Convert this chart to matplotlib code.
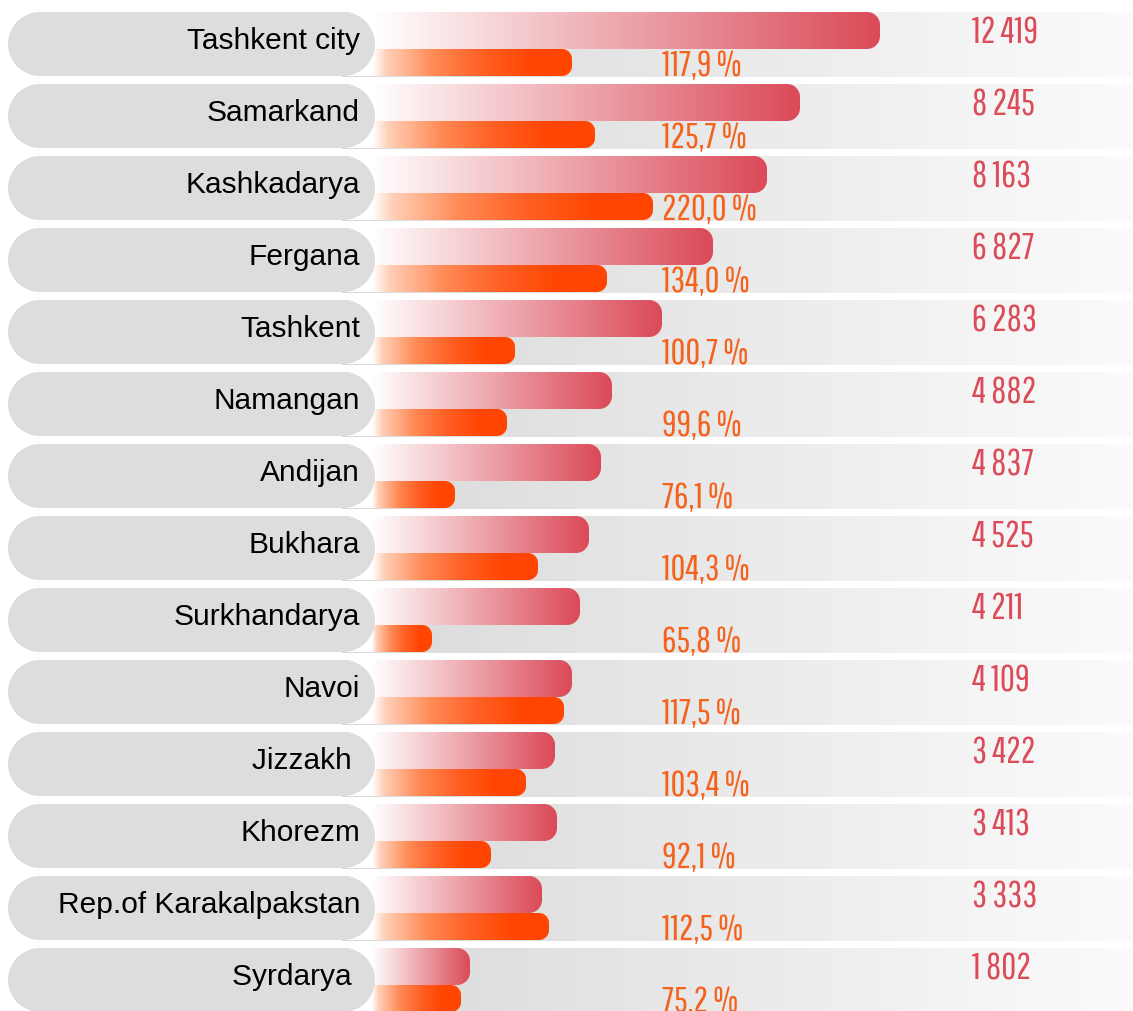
import numpy as np
import matplotlib
matplotlib.use('Agg')
import matplotlib.pyplot as plt
from matplotlib.patches import Polygon
from matplotlib.colors import LinearSegmentedColormap

# data
regions = ['Tashkent city', 'Samarkand', 'Kashkadarya', 'Fergana', 'Tashkent', 'Namangan',
           'Andijan', 'Bukhara', 'Surkhandarya', 'Navoi', 'Jizzakh ', 'Khorezm',
           'Rep.of Karakalpakstan', 'Syrdarya ']
values = [12419, 8245, 8163, 6827, 6283, 4882, 4837, 4525, 4211, 4109, 3422, 3413, 3333, 1802]
growth = [117.9, 125.7, 220.0, 134.0, 100.7, 99.6, 76.1, 104.3, 65.8, 117.5, 103.4, 92.1, 112.5, 75.2]
# bar lengths as drawn (not proportional to the numbers)
top_len = [508, 428, 395, 341, 290, 240, 229, 217, 208, 200, 183, 185, 170, 98]
bot_len = [200, 223, 281, 235, 143, 135, 83, 166, 60, 192, 154, 119, 177, 89]

W, H = 1133, 1011
x0 = 372          # left edge of the bar area (right end of the label pill)
pitch = 72
top_pad = 12

red_cmap = LinearSegmentedColormap.from_list('red', ['#ffffff', '#db4a58'])
org_cmap = LinearSegmentedColormap.from_list(
    'org', [(0, '#ffffff'), (0.07, '#ffd0b8'), (0.31, '#ff8a55'), (0.55, '#ff6025'),
            (0.8, '#ff4500'), (1, '#ff4500')])
band_cmap = LinearSegmentedColormap.from_list('band', ['#d9d9d9', '#fbfbfb'])

plt.rcParams['font.family'] = ['Liberation Sans', 'DejaVu Sans']
num_font = ['Pathway Gothic One', 'Liberation Sans Narrow', 'DejaVu Sans']

fig = plt.figure(figsize=(W / 100, H / 100), dpi=100)
ax = fig.add_axes([0, 0, 1, 1])
ax.set_xlim(-x0, W - x0)
ax.set_ylim(H, 0)
ax.axis('off')


def rrect(x, y, w, h, r, **kw):
    # rounded rectangle with true circular corners
    pts = []
    corners = [(x + w - r, y + h - r, 0), (x + r, y + h - r, 90),
               (x + r, y + r, 180), (x + w - r, y + r, 270)]
    for cx, cy, a in corners:
        t = np.radians(np.linspace(a, a + 90, 16))
        pts += list(zip(cx + r * np.cos(t), cy + r * np.sin(t)))
    return Polygon(pts, closed=True, **kw)


def grad_bar(ax, left, right, y, h, cmap, start, rounding, z):
    box = rrect(left, y, right - left, h, rounding, facecolor='none', edgecolor='none', zorder=z)
    ax.add_patch(box)
    xs = np.linspace(left, right, 400)
    frac = np.clip((xs - start) / (right - start), 0, 1)
    img = cmap(frac)[None, :, :]
    im = ax.imshow(img, extent=(left, right, y + h, y), aspect='auto',
                   interpolation='bilinear', zorder=z)
    im.set_clip_path(box)


for i, name in enumerate(regions):
    yt = top_pad + i * pitch

    # background band
    xs = np.linspace(0, 1, 400)
    ax.imshow(band_cmap(xs)[None, :, :], extent=(-30, W - x0, yt + 65, yt),
              aspect='auto', zorder=1)

    # top (red) and bottom (orange) bars
    grad_bar(ax, -32, top_len[i], yt, 37, red_cmap, 0, 13, 2)
    grad_bar(ax, -32, bot_len[i], yt + 37, 27, org_cmap, 0, 10, 3)

    # label pill
    ax.add_patch(rrect(-364, yt, 367, 64, 32, facecolor='#dcdddc', edgecolor='none', zorder=5))
    ax.text(-12, yt + 37, name, ha='right', va='baseline', fontsize=21.5,
            color='black', zorder=6)

    # numbers
    ax.text(600, yt + 31, f'{values[i]:,}'.replace(',', ' '), ha='left', va='baseline',
            fontsize=26.5, color='#dc4b5a', family=num_font, zorder=6)
    ax.text(290, yt + 64, f'{growth[i]:.1f}'.replace('.', ',') + ' %', ha='left',
            va='baseline', fontsize=26, color='#f4631e', family=num_font, zorder=6)

fig.savefig('out.png', dpi=100)
